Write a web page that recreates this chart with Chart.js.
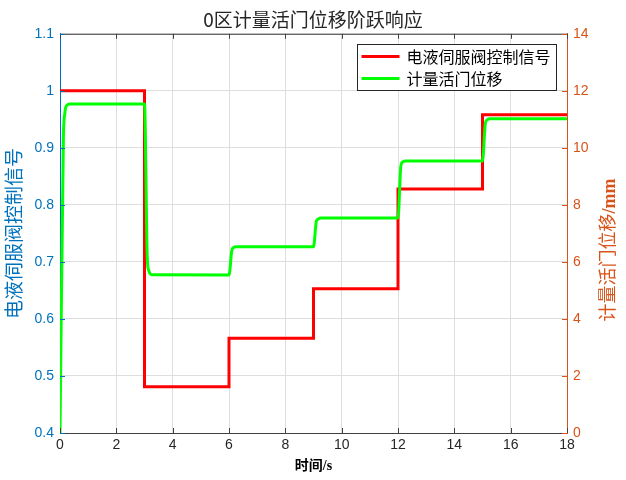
<!DOCTYPE html>
<html>
<head>
<meta charset="utf-8">
<script src="https://cdn.jsdelivr.net/npm/chart.js@4.4.1/dist/chart.umd.min.js"></script>
<style>
  html, body { margin: 0; padding: 0; background: #fff; }
  #wrap { width: 626px; height: 480px; }
</style>
</head>
<body>
<div id="wrap"><canvas id="stepChart" width="626" height="480"></canvas></div>
<script>
// Step times (s) and valve control signal levels (left axis)
const stepTimes = [0, 3, 6, 9, 12, 15, 18];
const signalLevels = [1.0, 0.481, 0.566, 0.653, 0.828, 0.958, 0.958];

// Metering valve displacement (mm, right axis)
const dispTimes = [0, 0.12, 0.17, 0.25, 0.35,
  3.0, 3.1, 3.15, 3.25,
  6.0, 6.1, 6.16, 6.26,
  9.0, 9.1, 9.16, 9.26,
  12.0, 12.1, 12.16, 12.26,
  15.0, 15.1, 15.16, 15.26, 18.0];
const dispValues = [0, 10.3, 11.2, 11.5, 11.54,
  11.54, 6.1, 5.7, 5.55,
  5.54, 6.4, 6.5, 6.53,
  6.53, 7.42, 7.5, 7.54,
  7.54, 9.35, 9.5, 9.54,
  9.54, 10.85, 10.98, 11.02, 11.02];

const xTicks = [0, 2, 4, 6, 8, 10, 12, 14, 16, 18];
const leftTicks = [0.4, 0.5, 0.6, 0.7, 0.8, 0.9, 1.0, 1.1];
const rightTicks = [0, 2, 4, 6, 8, 10, 12, 14];

const legendLabels = ['电液伺服阀控制信号', '计量活门位移'];
const rightTitle = ['计量活门位移', '/mm'];

const BLUE = '#0072BD';
const ORANGE = '#D95319';
const AXIS = '#404040';
const GRID = '#dedede';
const CJK = '"Noto Sans CJK SC", "Liberation Sans", sans-serif';
const SERIF = '"Liberation Serif", "Noto Sans CJK SC", serif';

// box, inner tick marks, right axis label and in-plot legend
const framePlugin = {
  id: 'frame',
  afterDatasetsDraw(chart) {
    const ctx = chart.ctx;
    const a = chart.chartArea;
    const x = chart.scales.x, yl = chart.scales.y, yr = chart.scales.y2;
    ctx.save();
    ctx.lineWidth = 1;
    ctx.strokeStyle = AXIS;
    ctx.beginPath();
    ctx.moveTo(a.left, a.top + 0.5);
    ctx.lineTo(a.right, a.top + 0.5);
    xTicks.forEach(function(t) {
      const px = Math.round(x.getPixelForValue(t)) + 0.5;
      ctx.moveTo(px, a.bottom); ctx.lineTo(px, a.bottom - 5);
      ctx.moveTo(px, a.top); ctx.lineTo(px, a.top + 5);
    });
    ctx.stroke();
    ctx.strokeStyle = BLUE;
    ctx.beginPath();
    leftTicks.forEach(function(t) {
      const py = Math.round(yl.getPixelForValue(t)) + 0.5;
      ctx.moveTo(a.left, py); ctx.lineTo(a.left + 5, py);
    });
    ctx.stroke();
    ctx.strokeStyle = ORANGE;
    ctx.beginPath();
    rightTicks.forEach(function(t) {
      const py = Math.round(yr.getPixelForValue(t)) + 0.5;
      ctx.moveTo(a.right, py); ctx.lineTo(a.right - 5, py);
    });
    ctx.stroke();

    // right axis label, reading bottom to top like MATLAB
    ctx.save();
    ctx.translate(609, 250);
    ctx.rotate(-Math.PI / 2);
    ctx.fillStyle = ORANGE;
    ctx.textBaseline = 'middle';
    ctx.font = '18px ' + SERIF;
    const w1 = ctx.measureText(rightTitle[0]).width;
    ctx.font = 'bold 18px ' + SERIF;
    const w2 = ctx.measureText(rightTitle[1]).width;
    const x0 = -(w1 + w2) / 2;
    ctx.font = '18px ' + SERIF;
    ctx.fillText(rightTitle[0], x0, 0);
    ctx.font = 'bold 18px ' + SERIF;
    ctx.fillText(rightTitle[1], x0 + w1, 1);
    ctx.restore();

    // legend
    ctx.font = '16px ' + CJK;
    const textW = Math.max.apply(null, legendLabels.map(function(s) { return ctx.measureText(s).width; }));
    const boxW = 4 + 38 + 7 + textW + 6;
    const boxH = 46;
    const bx = Math.round(a.right - 11 - boxW) + 0.5;
    const by = Math.round(a.top + 10) + 0.5;
    ctx.fillStyle = '#fff';
    ctx.fillRect(bx, by, boxW, boxH);
    ctx.strokeStyle = '#262626';
    ctx.strokeRect(bx, by, boxW, boxH);
    const colors = ['#ff0000', '#00ff00'];
    ctx.textBaseline = 'middle';
    legendLabels.forEach(function(lbl, i) {
      const ly = by + 12 + i * 22;
      ctx.strokeStyle = colors[i];
      ctx.lineWidth = 3;
      ctx.beginPath();
      ctx.moveTo(bx + 4, ly); ctx.lineTo(bx + 42, ly);
      ctx.stroke();
      ctx.fillStyle = '#000';
      ctx.fillText(lbl, bx + 49, ly);
    });
    ctx.restore();
  }
};

const signalData = stepTimes.map(function(t, i) { return { x: t, y: signalLevels[i] }; });
const dispData = dispTimes.map(function(t, i) { return { x: t, y: dispValues[i] }; });

const ctx = document.getElementById('stepChart').getContext('2d');
const stepChart = new Chart(ctx, {
  type: 'line',
  data: {
    datasets: [{
      label: legendLabels[0],
      data: signalData,
      yAxisID: 'y',
      borderColor: '#ff0000',
      borderWidth: 3,
      pointRadius: 0,
      stepped: 'before',
      order: 2
    }, {
      label: legendLabels[1],
      data: dispData,
      yAxisID: 'y2',
      borderColor: '#00ff00',
      borderWidth: 3,
      pointRadius: 0,
      cubicInterpolationMode: 'monotone',
      order: 1
    }]
  },
  options: {
    responsive: false,
    animation: false,
    layout: { padding: 0 },
    plugins: {
      legend: { display: false },
      tooltip: { enabled: false },
      title: {
        display: true,
        text: '0区计量活门位移阶跃响应',
        color: '#262626',
        font: { family: CJK, size: 19, weight: 'normal', lineHeight: 1.2 },
        padding: { top: 8, bottom: 3 }
      }
    },
    scales: {
      x: {
        type: 'linear',
        min: 0, max: 18,
        afterBuildTicks: function(s) { s.ticks = xTicks.map(function(v) { return { value: v }; }); },
        afterFit: function(s) { s.height = 47; },
        ticks: { color: '#262626', font: { family: 'Liberation Sans', size: 14 }, padding: 4 },
        grid: { color: GRID, drawTicks: false },
        border: { color: AXIS, width: 1 },
        title: {
          display: true, text: '时间/s', color: '#000',
          font: { family: SERIF, size: 14, weight: 'bold', lineHeight: 1.2 },
          padding: { top: 5, bottom: 5 }
        }
      },
      y: {
        position: 'left',
        min: 0.4, max: 1.1,
        afterBuildTicks: function(s) { s.ticks = leftTicks.map(function(v) { return { value: v }; }); },
        afterFit: function(s) { s.width = 60; },
        ticks: {
          color: BLUE, font: { family: 'Liberation Sans', size: 14 }, padding: 6,
          callback: function(v) { return String(+v.toFixed(1)); }
        },
        grid: { color: GRID, drawTicks: false },
        border: { color: BLUE, width: 1 },
        title: {
          display: true, text: '电液伺服阀控制信号', color: BLUE,
          font: { family: CJK, size: 19, weight: 'normal', lineHeight: 1.2 },
          padding: { top: 2, bottom: 2 }
        }
      },
      y2: {
        position: 'right',
        min: 0, max: 14,
        afterBuildTicks: function(s) { s.ticks = rightTicks.map(function(v) { return { value: v }; }); },
        afterFit: function(s) { s.width = 59; },
        ticks: { color: ORANGE, font: { family: 'Liberation Sans', size: 14 }, padding: 6 },
        grid: { display: false, drawTicks: false },
        border: { color: ORANGE, width: 1 },
        title: { display: false }
      }
    }
  },
  plugins: [framePlugin]
});
</script>
</body>
</html>
